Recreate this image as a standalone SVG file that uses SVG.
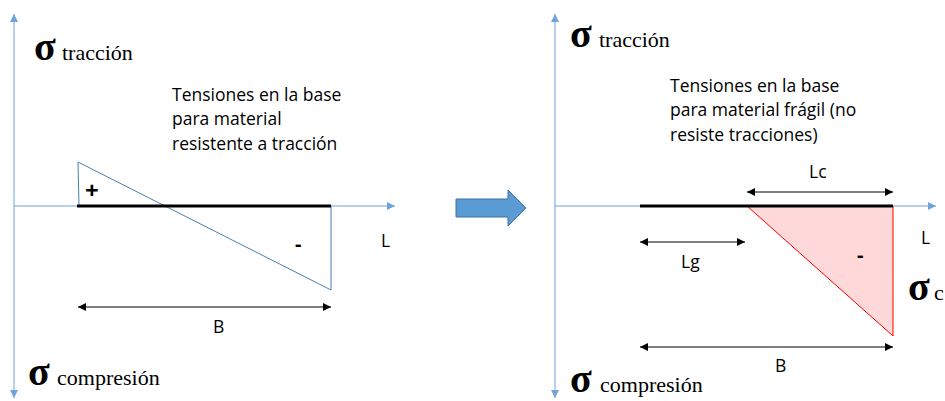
<svg xmlns="http://www.w3.org/2000/svg" width="945" height="401" viewBox="0 0 945 401">
<style>
.ax{stroke:#6FA3DA;stroke-width:1;fill:none}
.base{stroke:#000;stroke-width:3}
.dim{stroke:#000;stroke-width:1}
.t{font-family:"Open Sans","Liberation Sans",sans-serif;font-size:17.5px;fill:#000}
.s{font-family:"Liberation Serif",serif;fill:#000;font-size:22px}
.g{font-family:"Liberation Serif",serif;fill:#000;font-size:40px;font-weight:bold}
</style>
<defs>
<marker id="ah" viewBox="0 0 10 10" refX="10" refY="5" markerWidth="8" markerHeight="8" markerUnits="userSpaceOnUse" orient="auto-start-reverse"><path d="M0,0 L10,5 L0,10 z" fill="#000"/></marker>
<marker id="axh" viewBox="0 0 10 10" refX="10" refY="5" markerWidth="8" markerHeight="8" markerUnits="userSpaceOnUse" orient="auto"><path d="M0,0 L10,5 L0,10 z" fill="#6FA3DA"/></marker>
</defs>
<g id="left-axes">
<line class="ax" x1="14" y1="206" x2="14" y2="14" marker-end="url(#axh)"/>
<line class="ax" x1="14" y1="206" x2="14" y2="398" marker-end="url(#axh)"/>
<line class="ax" x1="14" y1="206" x2="395" y2="206" marker-end="url(#axh)"/>
</g>
<g id="left-diagram">
<polyline points="79,206 78,162 331,290 331,206" fill="none" stroke="#4A7EB0" stroke-width="1"/>
<line class="base" x1="77" y1="206" x2="331" y2="206"/>
<text class="t" x="85" y="199" style="font-size:24px;font-weight:bold">+</text>
<text class="t" x="295" y="251" style="font-size:20px;font-weight:bold">-</text>
<text class="t" x="381" y="247">L</text>
</g>
<g id="left-labels">
<text class="g" x="34" y="60">σ</text>
<text class="s" x="62" y="60">tracción</text>
<text class="g" x="28" y="385">σ</text>
<text class="s" x="57" y="385">compresión</text>
<text class="t" x="172" y="101">Tensiones en la base</text>
<text class="t" x="172" y="125">para material</text>
<text class="t" x="172" y="150">resistente a tracción</text>
</g>
<g id="connectors">
<line class="dim" x1="78" y1="307" x2="331" y2="307" marker-start="url(#ah)" marker-end="url(#ah)"/>
<line class="dim" x1="747" y1="192" x2="893" y2="192" marker-start="url(#ah)" marker-end="url(#ah)"/>
<line class="dim" x1="640" y1="242" x2="745" y2="242" marker-start="url(#ah)" marker-end="url(#ah)"/>
<line class="dim" x1="640" y1="347" x2="893" y2="347" marker-start="url(#ah)" marker-end="url(#ah)"/>
</g>
<g id="dim-labels">
<text class="t" x="213" y="333">B</text>
<text class="t" x="809" y="178">Lc</text>
<text class="t" x="681" y="268">Lg</text>
<text class="t" x="775" y="372">B</text>
</g>
<g id="big-arrow">
<path d="M456,199 L508,199 L508,190 L526,208 L508,226 L508,217 L456,217 z" fill="#5B9BD5" stroke="#41719C" stroke-width="1"/>
</g>
<g id="right-axes">
<line class="ax" x1="555" y1="206" x2="555" y2="14" marker-end="url(#axh)"/>
<line class="ax" x1="555" y1="206" x2="555" y2="398" marker-end="url(#axh)"/>
<line class="ax" x1="555" y1="206" x2="936" y2="206" marker-end="url(#axh)"/>
</g>
<g id="right-diagram">
<polygon points="747,206 893,206 893,336" fill="#FFD9D9" stroke="#FF0000" stroke-width="1"/>
<line class="base" x1="640" y1="206" x2="893" y2="206"/>
<text class="t" x="857" y="262" style="font-size:20px;font-weight:bold">-</text>
<text class="t" x="921" y="244">L</text>
<text class="g" x="908" y="300">σ</text>
<text class="s" x="934" y="300">c</text>
</g>
<g id="right-labels">
<text class="g" x="570" y="47">σ</text>
<text class="s" x="599" y="47">tracción</text>
<text class="g" x="570" y="392">σ</text>
<text class="s" x="600" y="392">compresión</text>
<text class="t" x="670" y="92">Tensiones en la base</text>
<text class="t" x="670" y="116">para material frágil (no</text>
<text class="t" x="670" y="141">resiste tracciones)</text>
</g>
</svg>
